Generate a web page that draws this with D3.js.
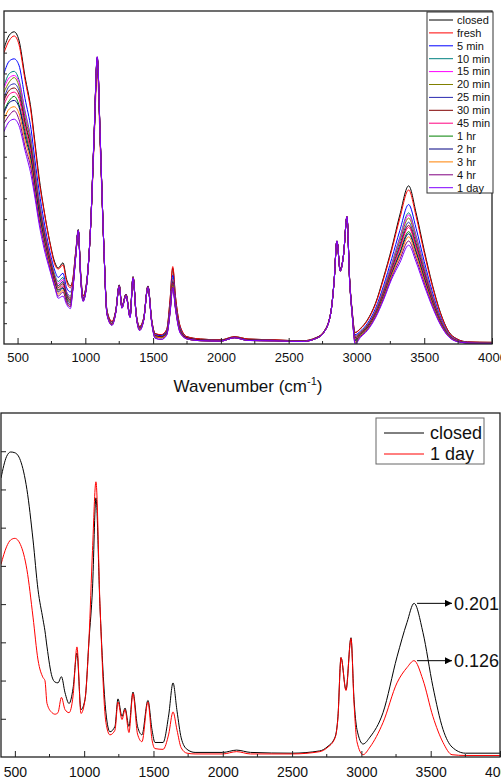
<!DOCTYPE html>
<html>
<head>
<meta charset="utf-8">
<script src="https://cdn.jsdelivr.net/npm/d3@7"></script>
<style>
	body { margin: 0; background: #fff; }
	svg { display: block; }
	text { font-family: "Liberation Sans", Arial, sans-serif; fill: #111; }
</style>
</head>
<body>
<svg id="chart" width="501" height="779"></svg>
<script>

/* IR spectra, two panels: all samples on top, closed vs 1 day below */

// Tick values shared by both panels
var majorTicks = [500, 1000, 1500, 2000, 2500, 3000, 3500, 4000];
var minorTicks = [750, 1250, 1750, 2250, 2750, 3250, 3750];
var topYTicks = [1, 2, 3, 4, 5, 6, 7, 8, 9, 10, 11, 12, 13, 14, 15];
var botYTicks = [0.05, 0.10, 0.15, 0.20, 0.25, 0.30, 0.35, 0.40];

// Top panel: wavenumbers and one array per sample (arbitrary units)
var wnTop = [400, 440, 475, 510, 555, 600, 629, 658, 695, 740, 776, 800, 835, 862, 890, 905,
	930, 948, 965, 983, 1010, 1040, 1065, 1088, 1110, 1135, 1160, 1196, 1225, 1250, 1270, 1300, 1330, 1352, 1375, 1400, 1430, 1462, 1490, 1515, 1560,
	1600, 1625, 1645, 1665, 1700,
	1750, 1850, 2000, 2100, 2200, 2400, 2600, 2700, 2760, 2810, 2835, 2856, 2880, 2905, 2930, 2950, 2968,
	2990, 3030, 3080, 3140, 3200, 3260, 3320, 3385, 3440, 3500, 3560, 3620, 3680, 3740, 3820, 4000];

var closedTop = [14.2, 14.85, 15.0, 14.6, 12.85, 11.25, 9.65, 8.05, 6.45, 4.85, 3.9, 3.65, 3.9, 3.1, 2.8, 3.0,
	4.5, 5.5, 3.5, 2.3, 3.0, 5.8, 10.0, 13.7, 9.8, 5.0, 1.6, 1.07, 1.63, 2.84, 1.83, 2.4, 1.39, 3.24, 1.49, 0.83, 1.24, 2.79, 1.15, 0.51, 0.43,
	0.67, 2.1, 3.64, 2.27, 0.83,
	0.35, 0.24, 0.2, 0.35, 0.24, 0.2, 0.15, 0.3, 0.6, 1.5, 3.0, 4.95, 3.6, 4.3, 6.08, 3.1, 1.63,
	0.55, 0.75, 1.15, 1.95, 3.2, 4.6, 6.2, 7.6, 6.3, 4.5, 2.85, 1.5, 0.6, 0.25, 0.1, 0.08];

var freshTop = [14.0, 14.6, 14.8, 14.4, 12.7, 11.1, 9.5, 7.9, 6.4, 4.8, 3.8, 3.6, 3.8, 3.0, 2.7, 3.0,
	4.5, 5.4, 3.5, 2.3, 3.0, 5.7, 9.7, 13.1, 9.4, 4.9, 1.6, 1.1, 1.63, 2.82, 1.83, 2.4, 1.39, 3.22, 1.49, 0.85, 1.24, 2.78, 1.15, 0.5, 0.45,
	0.7, 2.15, 3.72, 2.3, 0.85,
	0.35, 0.24, 0.2, 0.35, 0.24, 0.2, 0.15, 0.3, 0.6, 1.5, 3.0, 4.95, 3.6, 4.3, 6.08, 3.1, 1.63,
	0.55, 0.73, 1.12, 1.9, 3.12, 4.5, 6.04, 7.4, 6.14, 4.38, 2.78, 1.46, 0.58, 0.24, 0.1, 0.08];

var min5Top = [13.0, 13.6, 13.7, 13.4, 11.8, 10.3, 8.8, 7.4, 5.9, 4.4, 3.5, 3.2, 3.4, 2.7, 2.5, 2.8,
	4.4, 5.45, 3.4, 2.2, 2.95, 5.8, 10.0, 13.6, 9.8, 4.95, 1.55, 1.0, 1.6, 2.82, 1.8, 2.38, 1.35, 3.22, 1.45, 0.8, 1.2, 2.77, 1.1, 0.45, 0.4,
	0.62, 1.85, 3.3, 2.05, 0.75,
	0.3, 0.2, 0.17, 0.32, 0.2, 0.17, 0.13, 0.28, 0.58, 1.48, 3.0, 4.95, 3.55, 4.3, 6.1, 3.05, 1.55,
	0.45, 0.62, 0.98, 1.7, 2.8, 4.1, 5.45, 6.7, 5.56, 3.97, 2.51, 1.3, 0.5, 0.2, 0.08, 0.06];

var min10Top = [12.4, 13.0, 13.1, 12.7, 11.2, 9.8, 8.4, 7.0, 5.6, 4.2, 3.3, 3.0, 3.2, 2.5, 2.3, 2.7,
	4.35, 5.45, 3.35, 2.15, 2.9, 5.8, 10.0, 13.7, 9.8, 4.95, 1.5, 0.98, 1.58, 2.8, 1.78, 2.36, 1.33, 3.2, 1.42, 0.75, 1.17, 2.75, 1.07, 0.4, 0.35,
	0.6, 1.75, 3.15, 1.95, 0.72,
	0.3, 0.2, 0.17, 0.32, 0.2, 0.17, 0.13, 0.28, 0.58, 1.48, 3.0, 4.95, 3.55, 4.3, 6.1, 3.05, 1.55,
	0.4, 0.58, 0.92, 1.6, 2.65, 3.85, 5.13, 6.3, 5.22, 3.73, 2.36, 1.22, 0.47, 0.18, 0.07, 0.05];

var min15Top = [12.3, 12.8, 12.9, 12.6, 11.1, 9.7, 8.3, 6.9, 5.6, 4.2, 3.2, 2.9, 3.1, 2.5, 2.2, 2.7,
	4.35, 5.45, 3.35, 2.15, 2.9, 5.8, 10.0, 13.7, 9.8, 4.95, 1.5, 0.98, 1.58, 2.8, 1.78, 2.36, 1.33, 3.2, 1.42, 0.75, 1.17, 2.75, 1.07, 0.4, 0.35,
	0.58, 1.72, 3.1, 1.92, 0.7,
	0.3, 0.2, 0.17, 0.32, 0.2, 0.17, 0.13, 0.28, 0.58, 1.48, 3.0, 4.95, 3.55, 4.3, 6.1, 3.05, 1.55,
	0.38, 0.57, 0.9, 1.58, 2.62, 3.8, 5.05, 6.2, 5.14, 3.67, 2.33, 1.2, 0.46, 0.18, 0.07, 0.05];

var min20Top = [12.1, 12.6, 12.8, 12.4, 10.9, 9.6, 8.2, 6.8, 5.5, 4.1, 3.2, 2.8, 3.0, 2.4, 2.2, 2.7,
	4.35, 5.45, 3.35, 2.15, 2.9, 5.8, 10.0, 13.7, 9.8, 4.95, 1.5, 0.98, 1.58, 2.8, 1.78, 2.36, 1.33, 3.2, 1.42, 0.75, 1.17, 2.75, 1.07, 0.4, 0.35,
	0.56, 1.7, 3.05, 1.9, 0.68,
	0.3, 0.2, 0.17, 0.32, 0.2, 0.17, 0.13, 0.28, 0.58, 1.48, 3.0, 4.95, 3.55, 4.3, 6.1, 3.05, 1.55,
	0.35, 0.55, 0.88, 1.55, 2.56, 3.72, 4.93, 6.05, 5.01, 3.58, 2.27, 1.17, 0.45, 0.17, 0.07, 0.05];

var min25Top = [11.8, 12.4, 12.5, 12.2, 10.7, 9.4, 8.0, 6.7, 5.4, 4.0, 3.1, 2.8, 3.0, 2.4, 2.1, 2.6,
	4.35, 5.45, 3.35, 2.15, 2.9, 5.8, 10.0, 13.7, 9.8, 4.95, 1.5, 0.98, 1.58, 2.8, 1.78, 2.36, 1.33, 3.2, 1.42, 0.75, 1.17, 2.75, 1.07, 0.4, 0.35,
	0.55, 1.67, 3.0, 1.86, 0.66,
	0.3, 0.2, 0.17, 0.32, 0.2, 0.17, 0.13, 0.28, 0.58, 1.48, 3.0, 4.95, 3.55, 4.3, 6.1, 3.05, 1.55,
	0.3, 0.52, 0.85, 1.5, 2.48, 3.62, 4.77, 5.85, 4.85, 3.47, 2.19, 1.13, 0.43, 0.16, 0.06, 0.05];

var min30Top = [11.7, 12.2, 12.3, 12.0, 10.6, 9.3, 7.9, 6.6, 5.3, 4.0, 3.1, 2.7, 2.9, 2.3, 2.1, 2.6,
	4.35, 5.45, 3.35, 2.15, 2.9, 5.8, 10.0, 13.7, 9.8, 4.95, 1.5, 0.98, 1.58, 2.8, 1.78, 2.36, 1.33, 3.2, 1.42, 0.75, 1.17, 2.75, 1.07, 0.4, 0.35,
	0.53, 1.64, 2.95, 1.83, 0.64,
	0.3, 0.2, 0.17, 0.32, 0.2, 0.17, 0.13, 0.28, 0.58, 1.48, 3.0, 4.95, 3.55, 4.3, 6.1, 3.05, 1.55,
	0.28, 0.5, 0.83, 1.47, 2.42, 3.55, 4.65, 5.7, 4.73, 3.38, 2.14, 1.1, 0.42, 0.16, 0.06, 0.05];

var min45Top = [11.5, 12.0, 12.1, 11.8, 10.4, 9.1, 7.8, 6.5, 5.2, 3.9, 3.0, 2.6, 2.8, 2.2, 2.0, 2.6,
	4.3, 5.45, 3.3, 2.1, 2.88, 5.8, 10.1, 13.75, 9.85, 4.95, 1.45, 0.95, 1.55, 2.78, 1.75, 2.34, 1.3, 3.2, 1.4, 0.72, 1.15, 2.74, 1.05, 0.35, 0.3,
	0.51, 1.6, 2.9, 1.8, 0.62,
	0.25, 0.16, 0.14, 0.3, 0.17, 0.15, 0.12, 0.26, 0.56, 1.46, 2.98, 4.95, 3.5, 4.28, 6.12, 3.0, 1.45,
	0.25, 0.48, 0.8, 1.44, 2.38, 3.5, 4.57, 5.6, 4.64, 3.32, 2.1, 1.08, 0.41, 0.15, 0.06, 0.04];

var hr1Top = [11.2, 11.7, 11.9, 11.5, 10.2, 8.9, 7.6, 6.4, 5.1, 3.8, 2.9, 2.6, 2.7, 2.2, 2.0, 2.5,
	4.3, 5.45, 3.3, 2.1, 2.88, 5.8, 10.1, 13.75, 9.85, 4.95, 1.45, 0.95, 1.55, 2.78, 1.75, 2.34, 1.3, 3.2, 1.4, 0.72, 1.15, 2.74, 1.05, 0.35, 0.3,
	0.5, 1.57, 2.85, 1.77, 0.6,
	0.25, 0.16, 0.14, 0.3, 0.17, 0.15, 0.12, 0.26, 0.56, 1.46, 2.98, 4.95, 3.5, 4.28, 6.12, 3.0, 1.45,
	0.2, 0.45, 0.77, 1.4, 2.32, 3.4, 4.4, 5.4, 4.47, 3.2, 2.02, 1.04, 0.4, 0.15, 0.06, 0.04];

var hr2Top = [11.1, 11.6, 11.7, 11.4, 10.0, 8.8, 7.5, 6.3, 5.0, 3.8, 2.9, 2.5, 2.7, 2.1, 1.9, 2.5,
	4.3, 5.45, 3.3, 2.1, 2.88, 5.8, 10.1, 13.75, 9.85, 4.95, 1.45, 0.95, 1.55, 2.78, 1.75, 2.34, 1.3, 3.2, 1.4, 0.72, 1.15, 2.74, 1.05, 0.35, 0.3,
	0.48, 1.55, 2.8, 1.74, 0.58,
	0.25, 0.16, 0.14, 0.3, 0.17, 0.15, 0.12, 0.26, 0.56, 1.46, 2.98, 4.95, 3.5, 4.28, 6.12, 3.0, 1.45,
	0.15, 0.42, 0.75, 1.38, 2.28, 3.36, 4.33, 5.3, 4.39, 3.14, 1.98, 1.02, 0.39, 0.14, 0.05, 0.04];

var hr3Top = [10.8, 11.3, 11.4, 11.1, 9.8, 8.6, 7.3, 6.1, 4.9, 3.7, 2.8, 2.4, 2.6, 2.0, 1.8, 2.5,
	4.3, 5.45, 3.3, 2.1, 2.88, 5.8, 10.1, 13.75, 9.85, 4.95, 1.45, 0.95, 1.55, 2.78, 1.75, 2.34, 1.3, 3.2, 1.4, 0.72, 1.15, 2.74, 1.05, 0.35, 0.3,
	0.46, 1.54, 2.8, 1.73, 0.56,
	0.25, 0.16, 0.14, 0.3, 0.17, 0.15, 0.12, 0.26, 0.56, 1.46, 2.98, 4.95, 3.5, 4.28, 6.12, 3.0, 1.45,
	0.1, 0.4, 0.72, 1.35, 2.24, 3.3, 4.22, 5.15, 4.27, 3.05, 1.93, 0.99, 0.38, 0.14, 0.05, 0.04];

var hr4Top = [10.6, 11.0, 11.2, 10.8, 9.5, 8.4, 7.2, 6.0, 4.8, 3.6, 2.7, 2.3, 2.5, 2.0, 1.8, 2.5,
	4.25, 5.45, 3.25, 2.05, 2.85, 5.8, 10.1, 13.8, 9.9, 4.95, 1.4, 0.9, 1.52, 2.76, 1.72, 2.32, 1.27, 3.18, 1.37, 0.65, 1.12, 2.72, 1.0, 0.28, 0.22,
	0.44, 1.5, 2.75, 1.7, 0.54,
	0.25, 0.16, 0.14, 0.3, 0.17, 0.15, 0.12, 0.26, 0.56, 1.46, 2.98, 4.95, 3.5, 4.28, 6.12, 3.0, 1.45,
	0.05, 0.36, 0.68, 1.3, 2.18, 3.2, 4.06, 4.95, 4.1, 2.93, 1.85, 0.95, 0.36, 0.13, 0.05, 0.03];

var day1Top = [10.2, 10.7, 10.8, 10.5, 9.3, 8.1, 7.0, 5.8, 4.6, 3.5, 2.7, 2.2, 2.3, 1.9, 1.7, 2.4,
	4.25, 5.45, 3.25, 2.05, 2.85, 5.8, 10.1, 13.8, 9.9, 4.95, 1.4, 0.9, 1.52, 2.76, 1.72, 2.32, 1.27, 3.18, 1.37, 0.65, 1.12, 2.72, 1.0, 0.28, 0.22,
	0.42, 1.48, 2.7, 1.67, 0.52,
	0.25, 0.16, 0.14, 0.3, 0.17, 0.15, 0.12, 0.26, 0.56, 1.46, 2.98, 4.95, 3.5, 4.28, 6.12, 3.0, 1.45,
	0.0, 0.32, 0.64, 1.25, 2.12, 3.12, 3.9, 4.75, 3.94, 2.81, 1.78, 0.92, 0.35, 0.12, 0.05, 0.03];

var topNames = ['closed', 'fresh', '5 min', '10 min', '15 min', '20 min', '25 min',
	'30 min', '45 min', '1 hr', '2 hr', '3 hr', '4 hr', '1 day'];
var topColors = ['#000000', '#ff0000', '#0000ff', '#008080', '#ff00ff', '#808000', '#2a2ab0',
	'#800000', '#ff0080', '#008000', '#000080', '#ff8000', '#800080', '#8000ff'];
var topValues = [closedTop, freshTop, min5Top, min10Top, min15Top, min20Top, min25Top,
	min30Top, min45Top, hr1Top, hr2Top, hr3Top, hr4Top, day1Top];

// Bottom panel: absorbance of closed and 1 day
var wnBot = [400, 440, 470, 500, 540, 587, 631, 667, 703, 717,
	732, 768, 790, 811, 836, 862, 891, 920, 948, 977,
	1006, 1035, 1060, 1085, 1114, 1157, 1186, 1222, 1244, 1273,
	1295, 1323, 1352, 1385, 1417, 1460, 1490, 1511, 1569, 1610,
	1641, 1670, 1700, 1742, 1800, 2000, 2100, 2200, 2500, 2700,
	2752, 2810, 2831, 2853, 2889, 2925, 2947, 2968, 3012, 3062,
	3156, 3257, 3329, 3380, 3444, 3516, 3589, 3654, 3750, 4000];

var closedBot = [0.365, 0.393, 0.399, 0.398, 0.388, 0.35, 0.284, 0.219, 0.18, 0.165,
	0.144, 0.105, 0.098, 0.097, 0.105, 0.084, 0.07, 0.09, 0.136, 0.062,
	0.075, 0.153, 0.22, 0.339, 0.197, 0.058, 0.033, 0.04, 0.076, 0.053,
	0.064, 0.04, 0.085, 0.04, 0.029, 0.074, 0.035, 0.019, 0.019, 0.055,
	0.097, 0.06, 0.025, 0.01, 0.006, 0.006, 0.009, 0.006, 0.005, 0.008,
	0.013, 0.026, 0.053, 0.13, 0.088, 0.156, 0.075, 0.036, 0.017, 0.026,
	0.058, 0.131, 0.176, 0.201, 0.163, 0.092, 0.036, 0.013, 0.005, 0.005];

var dayBot = [0.252, 0.275, 0.284, 0.286, 0.278, 0.245, 0.183, 0.127, 0.104, 0.1,
	0.07, 0.058, 0.056, 0.058, 0.078, 0.062, 0.058, 0.08, 0.144, 0.057,
	0.075, 0.155, 0.27, 0.36, 0.2, 0.045, 0.029, 0.035, 0.072, 0.049,
	0.062, 0.032, 0.083, 0.03, 0.02, 0.072, 0.022, 0.011, 0.01, 0.03,
	0.059, 0.035, 0.012, 0.005, 0.004, 0.004, 0.007, 0.004, 0.004, 0.007,
	0.012, 0.025, 0.052, 0.13, 0.087, 0.155, 0.07, 0.02, 0.003, 0.013,
	0.045, 0.097, 0.117, 0.126, 0.101, 0.053, 0.019, 0.003, 0.002, 0.002];

var botNames = ['closed', '1 day'];
var botColors = ['#000000', '#ff0000'];
var botValues = [closedBot, dayBot];

// Peak labels on the bottom panel
var peakWn = [3380, 3380];
var peakValues = [0.201, 0.126];

var svg = d3.select('#chart');

// Scales for both panels
var xTop = d3.scaleLinear().domain([400, 4000]).range([4, 492]);
var yTop = d3.scaleLinear().domain([0, 16]).range([344, 11]);
var xBot = d3.scaleLinear().domain([400, 4000]).range([1, 500]);
var yBot = d3.scaleLinear().domain([0, 0.45]).range([757, 413]);

// Arrow marker for the peak labels
svg.append('defs')
	.append('marker')
	.attr('id', 'arrow')
	.attr('viewBox', '0 0 10 10')
	.attr('refX', 10)
	.attr('refY', 5)
	.attr('markerWidth', 10)
	.attr('markerHeight', 7)
	.attr('markerUnits', 'userSpaceOnUse')
	.attr('orient', 'auto')
	.append('path')
	.attr('d', 'M0,0L10,5L0,10z')
	.attr('fill', '#000');

// Draw one panel: clip, lines, ticks, frame
function drawPanel(id, x, y, wn, values, colors, yTicks, yTickLen, labelSize, labelPad) {

	var x0 = x.range()[0], x1 = x.range()[1];
	var y0 = y.range()[1], y1 = y.range()[0];

	svg.select('defs')
		.append('clipPath')
		.attr('id', 'clip-' + id)
		.append('rect')
		.attr('x', x0)
		.attr('y', y0)
		.attr('width', x1 - x0)
		.attr('height', y1 - y0);

	var line = d3.line()
		.x(function(d, i) { return x(wn[i]); })
		.y(function(d) { return y(d); })
		.curve(d3.curveMonotoneX);

	// Spectra
	svg.append('g')
		.attr('clip-path', 'url(#clip-' + id + ')')
		.selectAll('path')
		.data(values)
		.enter()
		.append('path')
		.attr('d', function(d) { return line(d); })
		.attr('fill', 'none')
		.attr('stroke', function(d, i) { return colors[i]; })
		.attr('stroke-width', 1);

	// x axis, ticks pointing inward
	var gx = svg.append('g')
		.attr('transform', 'translate(0,' + y1 + ')')
		.call(d3.axisBottom(x)
			.tickValues(majorTicks)
			.tickSize(-6)
			.tickSizeOuter(0)
			.tickPadding(labelPad)
			.tickFormat(d3.format('d')));
	gx.select('.domain').remove();
	gx.selectAll('line').attr('stroke', '#222');
	gx.selectAll('text')
		.style('font-size', labelSize + 'px')
		.style('font-family', '"Liberation Sans", Arial, sans-serif')
		.attr('fill', '#111');

	gx.selectAll('.minor')
		.data(minorTicks)
		.enter()
		.append('line')
		.attr('class', 'minor')
		.attr('x1', function(d) { return x(d); })
		.attr('x2', function(d) { return x(d); })
		.attr('y1', 0)
		.attr('y2', -3)
		.attr('stroke', '#222');

	// y axis, no labels
	var gy = svg.append('g')
		.attr('transform', 'translate(' + x0 + ',0)')
		.call(d3.axisLeft(y)
			.tickValues(yTicks)
			.tickSize(-yTickLen)
			.tickSizeOuter(0)
			.tickFormat(''));
	gy.select('.domain').remove();
	gy.selectAll('line').attr('stroke', '#222');

	// Frame
	svg.append('rect')
		.attr('x', x0)
		.attr('y', y0)
		.attr('width', x1 - x0)
		.attr('height', y1 - y0)
		.attr('fill', 'none')
		.attr('stroke', '#222')
		.attr('stroke-width', 1.3);
}

drawPanel('top', xTop, yTop, wnTop, topValues, topColors, topYTicks, 3, 13, 9);
drawPanel('bot', xBot, yBot, wnBot, botValues, botColors, botYTicks, 5, 14, 10);

// Top axis title
var title = svg.append('text')
	.attr('x', 248)
	.attr('y', 392)
	.attr('text-anchor', 'middle')
	.style('font-size', '17px');
title.append('tspan').text('Wavenumber (cm');
title.append('tspan').attr('dy', -7).style('font-size', '11px').text('-1');
title.append('tspan').attr('dy', 7).text(')');

// Top legend
var legTop = svg.append('g');
legTop.append('rect')
	.attr('x', 427)
	.attr('y', 12)
	.attr('width', 66)
	.attr('height', 181)
	.attr('fill', '#fff')
	.attr('stroke', '#333')
	.attr('stroke-width', 1);

var legTopRows = legTop.selectAll('.row')
	.data(topNames)
	.enter()
	.append('g')
	.attr('class', 'row')
	.attr('transform', function(d, i) { return 'translate(0,' + (20 + i * 12.9) + ')'; });

legTopRows.append('line')
	.attr('x1', 429)
	.attr('x2', 453)
	.attr('stroke', function(d, i) { return topColors[i]; })
	.attr('stroke-width', 1);

legTopRows.append('text')
	.attr('x', 457)
	.attr('dy', '0.35em')
	.style('font-size', '11px')
	.text(function(d) { return d; });

// Bottom legend
var legBot = svg.append('g');
legBot.append('rect')
	.attr('x', 376)
	.attr('y', 418)
	.attr('width', 108)
	.attr('height', 46)
	.attr('fill', '#fff')
	.attr('stroke', '#666')
	.attr('stroke-width', 1);

var legBotRows = legBot.selectAll('.row')
	.data(botNames)
	.enter()
	.append('g')
	.attr('class', 'row')
	.attr('transform', function(d, i) { return 'translate(0,' + (433 + i * 21) + ')'; });

legBotRows.append('line')
	.attr('x1', 384)
	.attr('x2', 424)
	.attr('stroke', function(d, i) { return botColors[i]; })
	.attr('stroke-width', 1);

legBotRows.append('text')
	.attr('x', 430)
	.attr('dy', '0.35em')
	.style('font-size', '18px')
	.text(function(d) { return d; });

// Peak value arrows and labels
var peaks = svg.append('g')
	.selectAll('g')
	.data(peakValues)
	.enter()
	.append('g');

peaks.append('line')
	.attr('x1', function(d, i) { return xBot(peakWn[i]) + 3; })
	.attr('x2', 452)
	.attr('y1', function(d) { return yBot(d); })
	.attr('y2', function(d) { return yBot(d); })
	.attr('stroke', '#000')
	.attr('stroke-width', 1)
	.attr('marker-end', 'url(#arrow)');

peaks.append('text')
	.attr('x', 454)
	.attr('y', function(d) { return yBot(d); })
	.attr('dy', '0.35em')
	.style('font-size', '18px')
	.text(function(d) { return d3.format('.3f')(d); });

</script>
</body>
</html>
